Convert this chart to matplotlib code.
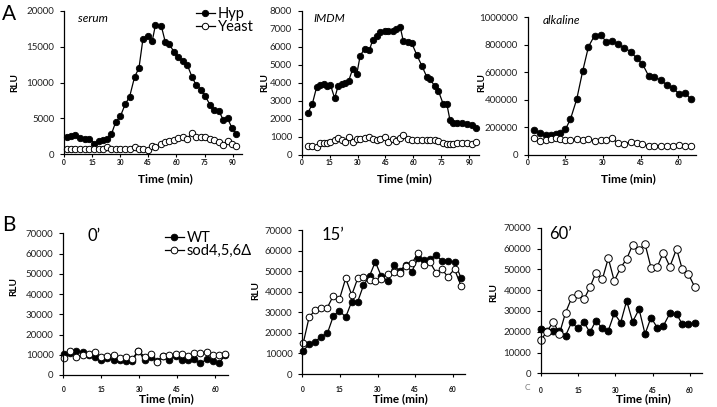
import matplotlib
matplotlib.use("Agg")
import matplotlib.pyplot as plt

plt.rcParams['font.family'] = ['Lato', 'DejaVu Sans']

# ============================
#  Data
# ============================
# Panel A - serum
t_serum = [1.4, 3.5, 6.0, 8.5, 11.0, 13.5, 16.1, 18.6, 20.9, 23.0, 25.3, 27.6, 30.1,
           32.7, 35.0, 37.7, 40.0, 42.1, 44.8, 47.1, 48.8, 51.9, 54.0, 56.3, 58.6,
           61.1, 63.4, 65.7, 68.3, 70.4, 73.1, 75.4, 77.9, 80.2, 82.5, 85.0, 87.3,
           89.6, 92.0]
hyp_serum = [2450, 2600, 2700, 2300, 2100, 2200, 1500, 1800, 2000, 2200, 2800, 4500, 5300,
             7000, 8000, 10800, 12000, 16000, 16500, 15800, 18000, 17900, 15700, 15300,
             14300, 13500, 13000, 12500, 10800, 9700, 9000, 8100, 6900, 6200, 6100, 4800,
             5000, 3700, 2800]
yeast_serum = [800, 800, 800, 750, 700, 700, 700, 700, 700, 1000, 700, 700, 700, 700, 700,
               1000, 750, 700, 600, 1200, 1000, 1500, 1700, 1900, 2000, 2300, 2400, 2100,
               3000, 2400, 2400, 2400, 2200, 2000, 1700, 1300, 1800, 1500, 1200]

# Panel A - IMDM
t_imdm = [3.4, 5.7, 8.0, 10.0, 11.8, 13.6, 15.4, 17.7, 19.5, 21.6, 23.4, 25.2, 27.3, 29.6,
          31.4, 33.8, 36.3, 38.2, 40.4, 42.1, 44.5, 46.6, 48.9, 50.7, 52.9, 54.6, 57.3,
          59.1, 61.8, 64.5, 67.1, 68.9, 71.6, 73.4, 76.1, 77.9, 79.6, 81.4, 83.2, 85.9,
          88.6, 91.3, 93.6]
hyp_imdm = [2350, 2830, 3760, 3900, 3950, 3800, 3900, 3150, 3800, 3950, 4000, 4100, 4750,
            4500, 5500, 5900, 5800, 6400, 6600, 6800, 6850, 6850, 6900, 7000, 7100, 6300,
            6250, 6200, 5550, 4950, 4350, 4200, 3800, 3550, 2800, 2850, 1950, 1800, 1750,
            1750, 1700, 1650, 1500]
yeast_imdm = [520, 520, 430, 690, 690, 690, 740, 830, 960, 830, 740, 980, 740, 870, 870,
              930, 980, 870, 830, 870, 1020, 740, 870, 800, 930, 1090, 870, 830, 830, 830,
              830, 830, 830, 780, 650, 590, 590, 590, 650, 690, 650, 590, 720]

# Panel A - alkaline
t_alk = [2.7, 4.9, 7.1, 9.2, 11.2, 13.0, 15.0, 17.0, 19.5, 21.9, 24.2, 26.6, 29.1, 31.2,
         33.7, 35.9, 38.4, 41.0, 43.4, 45.7, 48.1, 50.3, 53.0, 55.4, 57.8, 60.4, 62.7, 64.9]
hyp_alk = [182000, 157000, 145000, 145000, 150000, 162000, 186000, 259000, 404000, 610000,
           787000, 867000, 872000, 823000, 830000, 804000, 780000, 750000, 702000, 661000,
           576000, 564000, 545000, 508000, 484000, 443000, 453000, 404000]
yeast_alk = [121000, 104000, 109000, 114000, 121000, 114000, 109000, 109000, 114000, 109000,
             114000, 104000, 109000, 109000, 121000, 85000, 80000, 97000, 90000, 77000,
             68000, 68000, 68000, 68000, 68000, 73000, 68000, 63000]

# Panel B - 0'
t_b0 = [0.3, 2.7, 5.2, 7.6, 10.1, 12.5, 15.0, 17.4, 19.9, 22.3, 24.8, 27.2, 29.7, 32.1,
        34.6, 37.0, 39.5, 41.9, 44.4, 46.8, 49.3, 51.7, 54.2, 56.6, 59.1, 61.5, 64.0]
wt_b0 = [10400, 10800, 12000, 11300, 10000, 9000, 7300, 8500, 7500, 7500, 6800, 7000, 11800,
         7500, 8800, 6800, 9200, 7400, 9500, 7300, 7500, 7800, 5700, 7800, 7000, 5800, 10000]
sod_b0 = [8200, 12000, 9000, 10000, 10400, 11200, 9000, 9400, 9900, 8200, 9000, 7900, 12000,
          9000, 10400, 6500, 9500, 9800, 10300, 10300, 9400, 10700, 10700, 11200, 9900,
          9900, 10400]

# Panel B - 15'
t_b15 = [0.4, 2.7, 5.1, 7.5, 10.0, 12.4, 14.8, 17.3, 19.7, 22.1, 24.4, 26.8, 29.1, 31.5,
         34.1, 36.4, 38.8, 41.3, 43.7, 46.1, 48.4, 50.8, 53.3, 55.7, 58.0, 60.7, 63.3]
wt_b15 = [11300, 14400, 15700, 18200, 19800, 28200, 30800, 27600, 35200, 35200, 43100, 47600,
          54500, 47600, 45200, 52800, 50200, 53000, 49800, 56200, 55400, 55900, 57700, 55100,
          54900, 54300, 46800]
sod_b15 = [15200, 27500, 31100, 32300, 32300, 38100, 36300, 46500, 38400, 46500, 47300, 45700,
           45200, 46200, 48600, 49800, 49000, 52700, 53800, 58700, 53000, 54600, 49300, 50900,
           47300, 50900, 42900]

# Panel B - 60'
t_b60 = [0.0, 2.3, 5.0, 7.4, 9.9, 12.3, 14.8, 17.3, 19.7, 22.1, 24.7, 27.1, 29.5, 32.1,
         34.5, 36.9, 39.5, 41.9, 44.3, 46.8, 49.3, 51.9, 54.6, 56.9, 59.3, 62.0]
wt_b60 = [21300, 20500, 20400, 20400, 18100, 24500, 21600, 24500, 19700, 25300, 21600, 20500,
          28800, 24400, 34900, 24800, 30800, 18900, 26800, 22000, 22900, 28800, 28500, 23600,
          23600, 24000]
sod_b60 = [16000, 20000, 24800, 18900, 29200, 36100, 38000, 35600, 41300, 48400, 45200, 55300,
           44400, 50800, 55000, 61700, 59300, 62200, 50800, 51300, 58000, 51300, 59800, 50000,
           47800, 41300]

# ============================
#  Figure helpers
# ============================
W, H = 717, 407
fig = plt.figure(figsize=(W / 100, H / 100), dpi=100)


def fx(x):
    return x / W


def fy(y):
    return 1 - y / H


def add_axes(left, right, top, bottom):
    return fig.add_axes([fx(left), fy(bottom), (right - left) / W, (bottom - top) / H])


def style(ax, xmax, ymax, ystep, xticks, xpad):
    ax.set_xlim(0, xmax)
    ax.set_ylim(0, ymax)
    for s in ["top", "right"]:
        ax.spines[s].set_visible(False)
    for s in ["left", "bottom"]:
        ax.spines[s].set_linewidth(0.9)
    yt = list(range(0, ymax + 1, ystep))
    ax.set_yticks(yt)
    ax.set_yticklabels([str(v) for v in yt])
    ax.set_xticks(xticks)
    ax.set_xticklabels([str(v) for v in xticks])
    ax.tick_params(axis="y", labelsize=7, length=3, width=0.8, pad=4, labelcolor="#222222")
    ax.tick_params(axis="x", labelsize=4.8, length=2, width=0.8, pad=xpad, labelcolor="#111111")
    plt.setp(ax.get_xticklabels(), fontweight="bold")


def draw(ax, t, filled, opened, ms_f, ms_o, lab_f=None, lab_o=None):
    ax.plot(t, filled, color="black", lw=0.9, marker="o", ms=ms_f, mfc="black",
            mec="black", mew=0.6, label=lab_f, clip_on=False)
    ax.plot(t, opened, color="black", lw=0.9, marker="o", ms=ms_o, mfc="white",
            mec="black", mew=0.7, label=lab_o, clip_on=False)


def legend(ax, x, y, size):
    ax.legend(loc="upper left", bbox_to_anchor=(fx(x), fy(y)), bbox_transform=fig.transFigure,
              frameon=False, fontsize=size, handlelength=1.3, handletextpad=0.2,
              labelspacing=-0.08, borderpad=0, borderaxespad=0)


# ============================
#  Panel A
# ============================
ax1 = add_axes(64, 242, 10.7, 154.3)
draw(ax1, t_serum, hyp_serum, yeast_serum, 4.6, 4.6, "Hyp", "Yeast")
style(ax1, 95, 20000, 5000, [0, 15, 30, 45, 60, 75, 90], 1.2)

ax2 = add_axes(301.7, 478.6, 10.7, 155)
draw(ax2, t_imdm, hyp_imdm, yeast_imdm, 4.6, 4.6)
style(ax2, 95, 8000, 1000, [0, 15, 30, 45, 60, 75, 90], 1.2)

ax3 = add_axes(527.7, 696, 17.3, 155)
draw(ax3, t_alk, hyp_alk, yeast_alk, 4.8, 4.6)
style(ax3, 67, 1000000, 200000, [0, 15, 30, 45, 60], 1.2)

legend(ax1, 196, 7, 10.5)

# ============================
#  Panel B
# ============================
ax4 = add_axes(63.3, 227.8, 233.3, 375)
draw(ax4, t_b0, wt_b0, sod_b0, 4.8, 4.8, "WT", "sod4,5,6\u0394")
style(ax4, 65, 70000, 10000, [0, 15, 30, 45, 60], 6)

ax5 = add_axes(302.3, 465.3, 230, 374)
draw(ax5, t_b15, wt_b15, sod_b15, 4.8, 4.8)
style(ax5, 65, 70000, 10000, [0, 15, 30, 45, 60], 7)

ax6 = add_axes(541, 702.4, 227.7, 373.3)
draw(ax6, t_b60, wt_b60, sod_b60, 5.0, 5.4)
style(ax6, 65, 70000, 10000, [0, 15, 30, 45, 60], 8)

legend(ax4, 165, 231, 10.5)

# ============================
#  Texts
# ============================
for x, y in [(15, 83), (265, 83), (482, 83), (14, 287), (256, 290), (494, 293)]:
    fig.text(fx(x), fy(y), "RLU", rotation=90, ha="center", va="center",
             fontsize=7.2, fontweight="bold")

for x, y in [(165, 179), (404, 179), (628, 179), (166, 399), (400, 399), (643, 399)]:
    fig.text(fx(x), fy(y), "Time (min)", ha="center", va="center",
             fontsize=8.5, fontweight="bold")

fig.text(fx(78), fy(18), "serum", ha="left", va="center", fontsize=8.5, style="italic")
fig.text(fx(313), fy(18.5), "IMDM", ha="left", va="center", fontsize=8.5, style="italic")
fig.text(fx(543), fy(20), "alkaline", ha="left", va="center", fontsize=8.5, style="italic")

fig.text(fx(88), fy(236), "0\u2019", ha="left", va="center", fontsize=12)
fig.text(fx(321.5), fy(235), "15\u2019", ha="left", va="center", fontsize=12)
fig.text(fx(549), fy(234), "60\u2019", ha="left", va="center", fontsize=12)

fig.text(fx(8.5), fy(14.5), "A", ha="center", va="center", fontsize=15)
fig.text(fx(8.5), fy(225), "B", ha="center", va="center", fontsize=15)
fig.text(fx(527), fy(388), "C", ha="center", va="center", fontsize=6, color="#777777")

fig.savefig("out.png", dpi=100)
